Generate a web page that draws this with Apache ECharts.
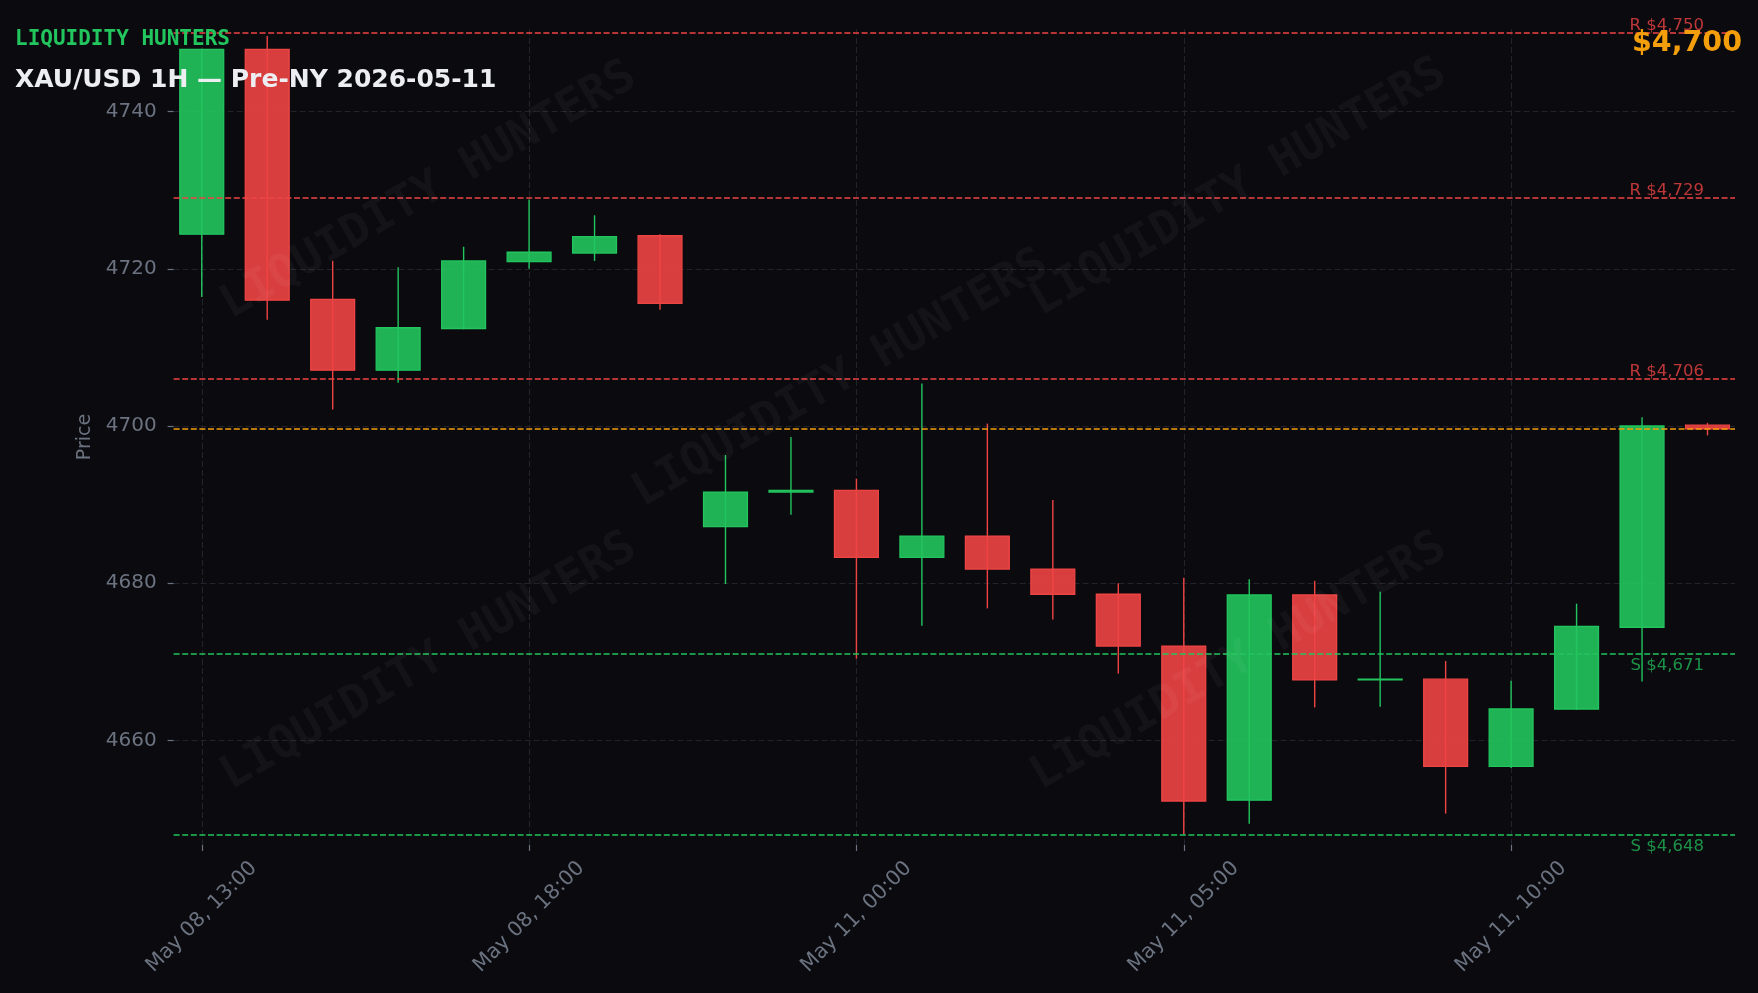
<!DOCTYPE html>
<html>
<head>
<meta charset="utf-8">
<script src="https://cdn.jsdelivr.net/npm/echarts@6/dist/echarts.min.js"></script>
<style>
html,body{margin:0;padding:0;background:#0b0b0f;}
#c{width:1758px;height:993px;}
</style>
</head>
<body>
<div id="c"></div>
<script>
// ---- data ----
const times = [
  'May 08, 13:00','May 08, 14:00','May 08, 15:00','May 08, 16:00','May 08, 17:00',
  'May 08, 18:00','May 08, 19:00','May 08, 20:00','May 10, 22:00','May 10, 23:00',
  'May 11, 00:00','May 11, 01:00','May 11, 02:00','May 11, 03:00','May 11, 04:00',
  'May 11, 05:00','May 11, 06:00','May 11, 07:00','May 11, 08:00','May 11, 09:00',
  'May 11, 10:00','May 11, 11:00','May 11, 12:00','May 11, 13:00'
];
const opens  = [4724.4, 4747.9, 4716.1, 4707.1, 4712.4, 4720.9, 4722.0, 4724.2, 4687.2, 4691.6, 4691.8, 4683.3, 4686.0, 4681.8, 4678.6, 4672.0, 4652.4, 4678.5, 4667.7, 4667.8, 4656.7, 4664.0, 4674.4, 4700.1];
const closes = [4747.9, 4716.0, 4707.1, 4712.5, 4721.0, 4722.1, 4724.1, 4715.6, 4691.6, 4691.8, 4683.3, 4686.0, 4681.8, 4678.6, 4672.0, 4652.3, 4678.5, 4667.7, 4667.8, 4656.7, 4664.0, 4674.5, 4700.0, 4699.65];
const highs  = [4748.0, 4749.6, 4721.0, 4720.2, 4722.8, 4728.8, 4726.8, 4724.4, 4696.3, 4698.6, 4693.3, 4705.4, 4700.3, 4690.6, 4680.0, 4680.7, 4680.5, 4680.3, 4678.9, 4670.1, 4667.6, 4677.4, 4701.1, 4700.4];
const lows   = [4716.4, 4713.5, 4702.1, 4705.5, 4712.3, 4720.0, 4721.0, 4714.8, 4679.9, 4688.7, 4670.4, 4674.6, 4676.8, 4675.4, 4668.5, 4648.0, 4649.4, 4664.2, 4664.3, 4650.7, 4656.5, 4663.9, 4667.5, 4698.8];
const resistance = [4750, 4729, 4706];
const support = [4671, 4648];
const xTickIdx = [0, 5, 10, 15, 20];
const yTicks = [4660, 4680, 4700, 4720, 4740];
const brand = 'LIQUIDITY HUNTERS';
const chartTitle = 'XAU/USD 1H \u2014 Pre-NY 2026-05-11';
const yName = 'Price';

// ---- styles ----
const GREEN = '#22c55e', RED = '#ef4444', ORANGE = '#f59e0b';
const GREEN_F = 'rgba(34,197,94,0.9)', RED_F = 'rgba(239,68,68,0.9)';
const GRAY = '#6b7280', GRID = '#22232c';
const SANS = 'DejaVu Sans', MONO = 'DejaVu Sans Mono';

const lastClose = closes[closes.length - 1];
const fmt = v => '$' + Math.round(v).toLocaleString('en-US');

const candleData = times.map((t, i) => [i, opens[i], closes[i], lows[i], highs[i]]);

function renderItem(params, api) {
  const i = api.value(0), o = api.value(1), c = api.value(2), l = api.value(3), h = api.value(4);
  const pO = api.coord([i, o]), pC = api.coord([i, c]);
  const pL = api.coord([i, l]), pH = api.coord([i, h]);
  const w = api.size([1, 0])[0] * 0.67;
  const up = c >= o;
  const col = up ? GREEN : RED;
  const top = Math.min(pO[1], pC[1]), bot = Math.max(pO[1], pC[1]);
  return {
    type: 'group',
    children: [
      { type: 'line', shape: { x1: pH[0], y1: pH[1], x2: pL[0], y2: pL[1] },
        style: { stroke: col, lineWidth: 1.4 } },
      { type: 'rect', shape: { x: pO[0] - w / 2, y: top, width: w, height: Math.max(bot - top, 0.6) },
        style: { fill: up ? GREEN_F : RED_F, stroke: col, lineWidth: 1.3 } }
    ]
  };
}

const levelLines = [];
resistance.forEach(v => levelLines.push({
  yAxis: v,
  lineStyle: { color: RED, type: [6, 2.6], width: 1.6 },
  label: { show: true, position: 'insideEndTop', formatter: 'R ' + fmt(v),
           color: 'rgba(239,68,68,0.78)', fontSize: 16.5, fontFamily: SANS, distance: [31, -1] }
}));
support.forEach(v => levelLines.push({
  yAxis: v,
  lineStyle: { color: GREEN, type: [6, 2.6], width: 1.6 },
  label: { show: true, position: 'insideEndBottom', formatter: 'S ' + fmt(v),
           color: 'rgba(34,197,94,0.72)', fontSize: 16.5, fontFamily: SANS, distance: [31, 3] }
}));
levelLines.push({
  yAxis: lastClose,
  lineStyle: { color: ORANGE, type: [6, 2.6], width: 1.6 },
  label: { show: false }
});

const wmPos = [[429, 191], [841, 379], [1239, 188], [429, 662], [1239, 662]];
const watermarks = wmPos.map(p => ({
  type: 'text', x: p[0], y: p[1], rotation: Math.PI / 6, z: 100, silent: true,
  style: { text: brand, x: 0, y: 0, align: 'center', verticalAlign: 'middle',
           font: 'bold 46px "DejaVu Sans Mono"', fill: 'rgba(255,255,255,0.04)' }
}));

const chart = echarts.init(document.getElementById('c'), null, { renderer: 'canvas' });
chart.setOption({
  backgroundColor: '#0b0b0f',
  animation: false,
  grid: { left: 173.6, right: 23, top: 29, bottom: 148 },
  xAxis: {
    type: 'value', min: -0.43, max: 23.42,
    axisLine: { show: false, onZero: false },
    axisTick: { show: true, length: 6, lineStyle: { color: GRAY, width: 1.2 }, customValues: xTickIdx },
    axisLabel: { customValues: xTickIdx, formatter: v => times[Math.round(v)],
                 rotate: 45, align: 'center', verticalAlign: 'middle', margin: 72,
                 color: GRAY, fontSize: 20.5, fontFamily: SANS },
    splitLine: { show: true, lineStyle: { color: GRID, type: [6, 3], width: 1 } }
  },
  yAxis: {
    type: 'value', min: 4646.7, max: 4750.5,
    name: yName, nameLocation: 'middle', nameGap: 75,
    nameTextStyle: { color: GRAY, fontSize: 19, fontFamily: SANS },
    axisLine: { show: false, onZero: false },
    axisTick: { show: true, length: 6, lineStyle: { color: GRAY, width: 1.2 }, customValues: yTicks },
    axisLabel: { customValues: yTicks, formatter: v => String(v), margin: 17,
                 color: GRAY, fontSize: 20, fontFamily: SANS },
    splitLine: { show: true, lineStyle: { color: GRID, type: [6, 3], width: 1 } }
  },
  series: [{
    type: 'custom',
    renderItem: renderItem,
    data: candleData,
    encode: { x: 0, y: [1, 2, 3, 4] },
    clip: false,
    markLine: { silent: true, symbol: ['none', 'none'], data: levelLines, animation: false }
  }],
  graphic: [
    ...watermarks,
    { type: 'text', x: 15, y: 40, z: 110,
      style: { text: brand, fill: GREEN, font: 'bold 21px "DejaVu Sans Mono"', verticalAlign: 'middle' } },
    { type: 'text', x: 15, y: 80, z: 110,
      style: { text: chartTitle, fill: '#eceef2', font: 'bold 25px "DejaVu Sans"', verticalAlign: 'middle' } },
    { type: 'text', x: 1742, y: 44, z: 110,
      style: { text: fmt(lastClose), fill: ORANGE, font: 'bold 28.5px "DejaVu Sans"', align: 'right', verticalAlign: 'middle' } }
  ]
});
</script>
</body>
</html>
